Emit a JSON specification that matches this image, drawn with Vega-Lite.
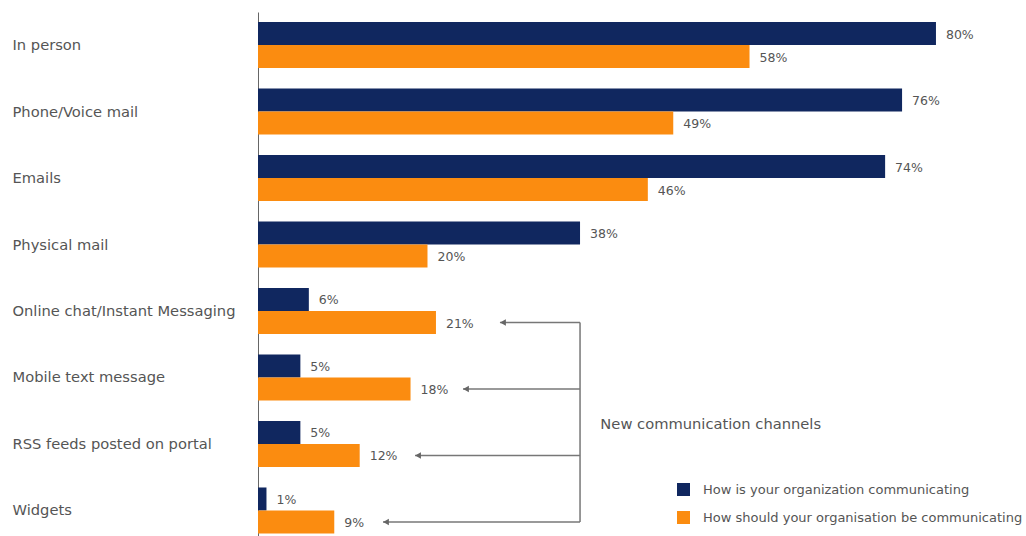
{
  "$schema": "https://vega.github.io/schema/vega-lite/v6.json",
  "width": 760,
  "height": 524,
  "autosize": {"type": "none"},
  "padding": {"left": 258, "top": 12, "right": 8, "bottom": 0},
  "background": "white",
  "config": {"view": {"stroke": null}, "font": "DejaVu Sans"},
  "datasets": {
    "bars": [
      {"channel": "In person", "series": "How is your organization communicating", "value": 80, "label": "80%"},
      {"channel": "In person", "series": "How should your organisation be communicating", "value": 58, "label": "58%"},
      {"channel": "Phone/Voice mail", "series": "How is your organization communicating", "value": 76, "label": "76%"},
      {"channel": "Phone/Voice mail", "series": "How should your organisation be communicating", "value": 49, "label": "49%"},
      {"channel": "Emails", "series": "How is your organization communicating", "value": 74, "label": "74%"},
      {"channel": "Emails", "series": "How should your organisation be communicating", "value": 46, "label": "46%"},
      {"channel": "Physical mail", "series": "How is your organization communicating", "value": 38, "label": "38%"},
      {"channel": "Physical mail", "series": "How should your organisation be communicating", "value": 20, "label": "20%"},
      {"channel": "Online chat/Instant Messaging", "series": "How is your organization communicating", "value": 6, "label": "6%"},
      {"channel": "Online chat/Instant Messaging", "series": "How should your organisation be communicating", "value": 21, "label": "21%"},
      {"channel": "Mobile text message", "series": "How is your organization communicating", "value": 5, "label": "5%"},
      {"channel": "Mobile text message", "series": "How should your organisation be communicating", "value": 18, "label": "18%"},
      {"channel": "RSS feeds posted on portal", "series": "How is your organization communicating", "value": 5, "label": "5%"},
      {"channel": "RSS feeds posted on portal", "series": "How should your organisation be communicating", "value": 12, "label": "12%"},
      {"channel": "Widgets", "series": "How is your organization communicating", "value": 1, "label": "1%"},
      {"channel": "Widgets", "series": "How should your organisation be communicating", "value": 9, "label": "9%"}
    ],
    "arrows": [
      {"channel": "Online chat/Instant Messaging", "from": 38, "to": 28.55},
      {"channel": "Mobile text message", "from": 38, "to": 24.19},
      {"channel": "RSS feeds posted on portal", "from": 38, "to": 18.53},
      {"channel": "Widgets", "from": 38, "to": 14.75}
    ],
    "bracket": [
      {"channel": "Online chat/Instant Messaging", "channel2": "Widgets", "x": 38}
    ],
    "note": [
      {"channel": "RSS feeds posted on portal", "x": 40.4, "label": "New communication channels"}
    ]
  },
  "layer": [
    {
      "data": {"name": "bars"},
      "mark": {"type": "bar"},
      "encoding": {
        "y": {
          "field": "channel", "type": "nominal", "sort": null,
          "scale": {
            "domain": ["In person", "Phone/Voice mail", "Emails", "Physical mail", "Online chat/Instant Messaging", "Mobile text message", "RSS feeds posted on portal", "Widgets"],
            "paddingInner": 0.308, "paddingOuter": 0.094, "align": 0.8
          },
          "axis": {
            "title": null, "ticks": false, "labelAlign": "left", "labelPadding": 246,
            "labelFontSize": 14.7, "labelColor": "#555555", "labelFont": "DejaVu Sans",
            "labelBaseline": "middle", "labelOffset": 1,
            "domainColor": "#666666", "domainWidth": 1, "labelLimit": 300
          }
        },
        "yOffset": {"field": "series", "type": "nominal", "sort": null, "scale": {"paddingInner": 0, "paddingOuter": 0}},
        "x": {"field": "value", "type": "quantitative", "scale": {"domain": [0, 89.68], "nice": false}, "axis": null},
        "color": {
          "field": "series", "type": "nominal", "sort": null,
          "scale": {
            "domain": ["How is your organization communicating", "How should your organisation be communicating"],
            "range": ["#10275f", "#fb8c10"]
          },
          "legend": {
            "orient": "none", "legendX": 419, "legendY": 471, "title": null,
            "symbolType": "square", "symbolSize": 169, "symbolStrokeWidth": 0,
            "labelFontSize": 13, "labelColor": "#555555", "labelFont": "DejaVu Sans",
            "rowPadding": 14, "labelOffset": 13, "labelLimit": 400
          }
        }
      }
    },
    {
      "data": {"name": "bars"},
      "mark": {"type": "text", "align": "left", "baseline": "middle", "dx": 10, "dy": 1, "fontSize": 12.5, "color": "#555555"},
      "encoding": {
        "y": {"field": "channel", "type": "nominal", "sort": null},
        "yOffset": {"field": "series", "type": "nominal", "sort": null},
        "x": {"field": "value", "type": "quantitative"},
        "text": {"field": "label"}
      }
    },
    {
      "data": {"name": "arrows"},
      "mark": {"type": "rule", "yOffset": 11.5, "y2Offset": 11.5, "color": "#777777", "strokeWidth": 1.5},
      "encoding": {
        "y": {"field": "channel", "type": "nominal"},
        "x": {"field": "from", "type": "quantitative"},
        "x2": {"field": "to"}
      }
    },
    {
      "data": {"name": "arrows"},
      "mark": {"type": "point", "shape": "triangle-left", "filled": true, "size": 45, "opacity": 1, "color": "#666666", "yOffset": 11.5, "xOffset": 3},
      "encoding": {
        "y": {"field": "channel", "type": "nominal"},
        "x": {"field": "to", "type": "quantitative"}
      }
    },
    {
      "data": {"name": "bracket"},
      "mark": {"type": "rule", "yOffset": 11.5, "y2Offset": 11.5, "color": "#777777", "strokeWidth": 1.5},
      "encoding": {
        "y": {"field": "channel", "type": "nominal"},
        "y2": {"field": "channel2"},
        "x": {"field": "x", "type": "quantitative"}
      }
    },
    {
      "data": {"name": "note"},
      "mark": {"type": "text", "align": "left", "baseline": "middle", "dy": -19, "fontSize": 14.7, "color": "#555555"},
      "encoding": {
        "y": {"field": "channel", "type": "nominal"},
        "x": {"field": "x", "type": "quantitative"},
        "text": {"field": "label"}
      }
    }
  ]
}
